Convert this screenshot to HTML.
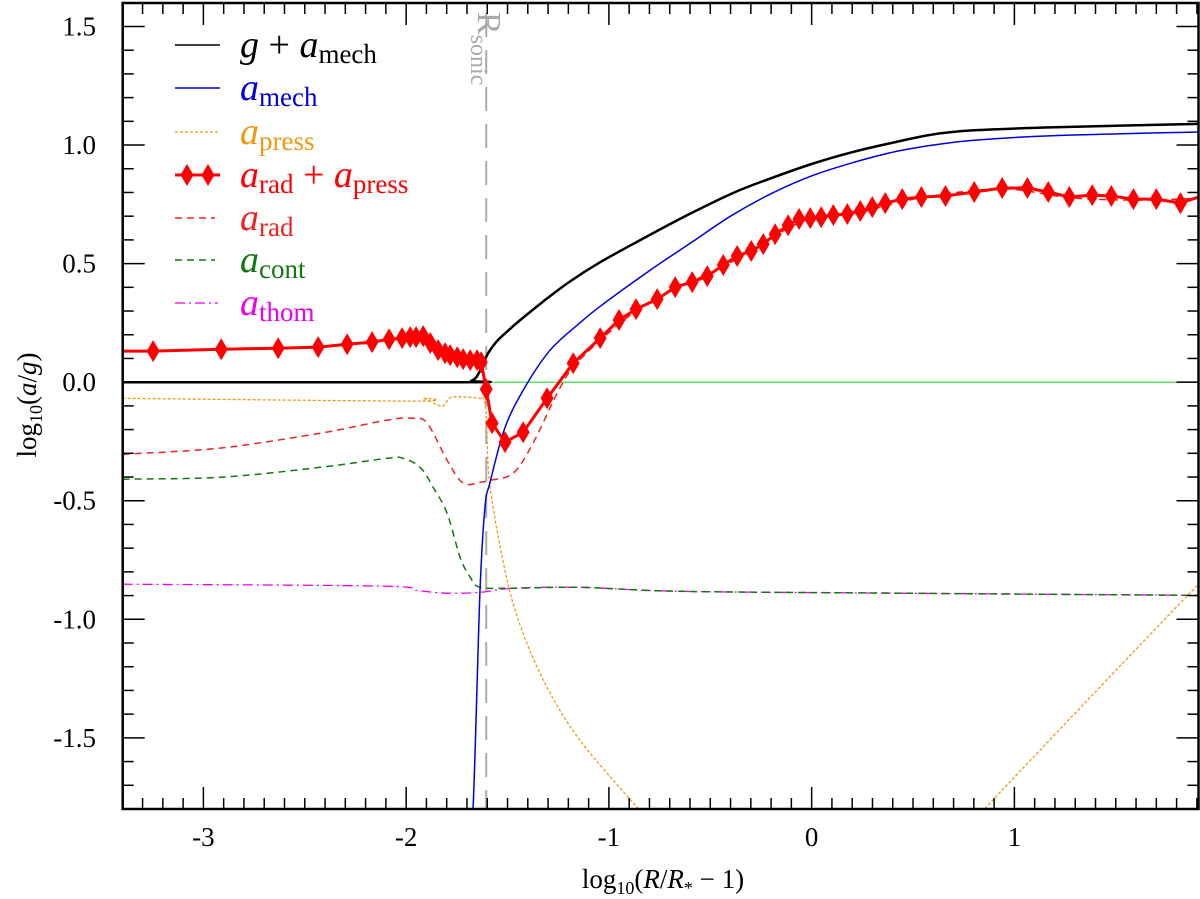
<!DOCTYPE html>
<html><head><meta charset="utf-8"><style>
html,body{margin:0;padding:0;background:#fff;}
svg{display:block;font-family:"Liberation Serif",serif;}
</style></head><body>
<svg id="chart" width="1200" height="899" viewBox="0 0 1200 899" xmlns="http://www.w3.org/2000/svg">
<defs><clipPath id="clip"><rect x="122.7" y="3" width="1075.8" height="806"/></clipPath></defs>
<g id="plot" clip-path="url(#clip)"></g>
<g id="axes"></g>
</svg>
<script>
const NS="http://www.w3.org/2000/svg";
const X0=-3.398,X1=1.908,Y0=-1.80,Y1=1.599;
const L=122.7,R=1198.5,T=3,B=809;
function sx(x){return L+(x-X0)/(X1-X0)*(R-L);}
function sy(y){return B-(y-Y0)/(Y1-Y0)*(B-T);}

const blackX=[-3.398,-1.719,-1.68,-1.655,-1.635,-1.615,-1.59,-1.55,-1.5,-1.437,-1.324,-1.2,-1.043,-0.8,-0.6,-0.382,-0.2,0,0.2,0.4,0.6,0.8,1.2,1.908];
const blackY=[0,0,0.005,0.02,0.05,0.09,0.13,0.175,0.215,0.262,0.34,0.42,0.506,0.62,0.71,0.80,0.86,0.92,0.97,1.01,1.045,1.062,1.075,1.089];
const blueX=[-1.695,-1.670,-1.636,-1.611,-1.586,-1.512,-1.414,-1.290,-1.15,-1.043,-0.8,-0.6,-0.4,-0.2,0,0.2,0.4,0.6,0.8,1.2,1.908];
const blueY=[-1.85,-1.793,-0.89,-0.527,-0.422,-0.19,-0.021,0.135,0.245,0.32,0.47,0.585,0.70,0.795,0.87,0.925,0.97,1.0,1.02,1.04,1.055];
const radPressX=[-3.398,-3.248,-2.912,-2.631,-2.434,-2.291,-2.168,-2.084,-2.020,-1.980,-1.951,-1.916,-1.881,-1.842,-1.808,-1.783,-1.748,-1.719,-1.684,-1.650,-1.630,-1.605,-1.576,-1.512,-1.423,-1.305,-1.176,-1.043,-0.950,-0.866,-0.762,-0.673,-0.589,-0.515,-0.436,-0.367,-0.298,-0.239,-0.180,-0.116,-0.062,-0.007,0.047,0.107,0.176,0.240,0.299,0.363,0.447,0.541,0.660,0.802,0.940,1.064,1.167,1.271,1.384,1.478,1.587,1.700,1.819,1.908];
const radPressY=[0.131,0.131,0.139,0.143,0.148,0.160,0.169,0.181,0.186,0.190,0.190,0.194,0.165,0.135,0.122,0.114,0.105,0.097,0.093,0.093,0.084,-0.030,-0.173,-0.253,-0.211,-0.068,0.080,0.186,0.262,0.308,0.350,0.401,0.422,0.447,0.494,0.532,0.553,0.582,0.624,0.662,0.688,0.692,0.696,0.705,0.709,0.722,0.738,0.755,0.772,0.781,0.785,0.802,0.819,0.819,0.802,0.781,0.789,0.785,0.772,0.772,0.755,0.781];
const radX=[-3.398,-2.917,-2.423,-2.093,-1.970,-1.896,-1.798,-1.719,-1.635,-1.586,-1.472,-1.374,-1.255,-1.176,-1.043,-0.866,-0.673,-0.436,-0.180,-0.007,0.240,0.541,0.940,1.271,1.587,1.908];
const radY=[-0.304,-0.278,-0.215,-0.160,-0.152,-0.173,-0.329,-0.426,-0.422,-0.414,-0.384,-0.257,-0.046,0.063,0.176,0.300,0.393,0.488,0.618,0.688,0.717,0.778,0.815,0.778,0.768,0.775];
const contX=[-3.398,-2.917,-2.423,-2.093,-2.015,-1.931,-1.867,-1.798,-1.734,-1.684,-1.635,-1.472,-1.142,-0.648,0.438,1.908];
const contY=[-0.409,-0.401,-0.359,-0.321,-0.321,-0.359,-0.443,-0.553,-0.738,-0.823,-0.865,-0.869,-0.865,-0.882,-0.890,-0.899];
const thomX=[-3.398,-2.128,-1.95,-1.8,-1.635,-1.472,-1.142,-0.648,0.438,1.908];
const thomY=[-0.852,-0.860,-0.878,-0.890,-0.886,-0.869,-0.865,-0.882,-0.890,-0.899];
const pressX=[-3.398,-1.966,-1.916,-1.823,-1.773,-1.635,-1.620,-1.605,-1.586,-1.502,-1.423,-1.305,-1.142,-0.861,-0.7,0.7,0.856,1.374,1.903,1.95];
const pressY=[-0.068,-0.080,-0.068,-0.101,-0.063,-0.068,-0.068,-0.139,-0.443,-0.835,-1.059,-1.287,-1.511,-1.793,-1.95,-1.95,-1.797,-1.329,-0.857,-0.83];
const zeroX=[-1.605,1.908];
const zeroY=[0,0];
const sonicX=-1.605;
const yTicks=[1.5,1.0,0.5,0.0,-0.5,-1.0,-1.5];
const yTickLabels=["1.5","1.0","0.5","0.0","-0.5","-1.0","-1.5"];
const xTicks=[-3,-2,-1,0,1];
const xTickLabels=["-3","-2","-1","0","1"];

const plot=document.getElementById('plot');
const axes=document.getElementById('axes');
function mk(tag,attrs,parent){const e=document.createElementNS(NS,tag);for(const k in attrs)e.setAttribute(k,attrs[k]);parent.appendChild(e);return e;}
function pathD(xs,ys){return xs.map((x,i)=>(i?'L':'M')+sx(x).toFixed(1)+','+sy(ys[i]).toFixed(1)).join(' ');}
function smoothD(xs,ys){
  const p=xs.map((x,i)=>[sx(x),sy(ys[i])]);
  let d='M'+p[0][0].toFixed(1)+','+p[0][1].toFixed(1);
  for(let i=0;i<p.length-1;i++){
    const p0=p[i-1]||p[i],p1=p[i],p2=p[i+1],p3=p[i+2]||p[i+1];
    const k=1/6;
    const c1=[p1[0]+(p2[0]-p0[0])*k,p1[1]+(p2[1]-p0[1])*k];
    const c2=[p2[0]-(p3[0]-p1[0])*k,p2[1]-(p3[1]-p1[1])*k];
    d+=` C${c1[0].toFixed(1)},${c1[1].toFixed(1)} ${c2[0].toFixed(1)},${c2[1].toFixed(1)} ${p2[0].toFixed(1)},${p2[1].toFixed(1)}`;
  }
  return d;
}
function line(xs,ys,stroke,w,dash,name,smooth){
  const p=mk('path',{d:smooth?smoothD(xs,ys):pathD(xs,ys),fill:'none',stroke:stroke,'stroke-width':w,'stroke-linejoin':'round'},plot);
  if(dash)p.setAttribute('stroke-dasharray',dash);
  
  
  return p;
}
const sl=mk('line',{x1:sx(sonicX),x2:sx(sonicX),y1:T,y2:B,stroke:'#aaaaaa','stroke-width':2,'stroke-dasharray':'24,13','stroke-dashoffset':'-10'},plot);


line(zeroX,zeroY,'#66dd66',1.5,null,'zero-line',false);
line(thomX,thomY,'#ee00ee',1.3,'10,4,2,4','a-thom-line',true);
line(contX,contY,'#117711',1.5,'7,5','a-cont-line',true);
line(pressX,pressY,'#ee9911',1.3,'3,2','a-press-line',true);
line(radX,radY,'#ee2222',1.5,'7,5','a-rad-line',true);
line(blueX,blueY,'#0000dd',1.5,null,'a-mech-line',true);
line(blackX,blackY,'#000',2.5,null,'g-plus-a-mech-line',true);
line(radPressX,radPressY,'#ff0000',3,null,'a-rad-plus-a-press-line',false);
for(let i=1;i<radPressX.length-1;i++){
  const cx=sx(radPressX[i]),cy=sy(radPressY[i]);
  const d=mk('polygon',{points:`${cx},${cy-11} ${cx+6.5},${cy} ${cx},${cy+11} ${cx-6.5},${cy}`,fill:'#ff0000'},plot);
  
  
}
const fr=mk('rect',{x:L,y:T,width:R-L,height:B-T,fill:'none',stroke:'#000','stroke-width':2.5},axes);


for(let k=-34;k<=19;k++){const x=k/10;if(x<X0||x>X1)continue;const major=(k%10===0);const len=major?22:11;const px=sx(x);
  mk('line',{x1:px,x2:px,y1:B,y2:B-len,stroke:'#000','stroke-width':1.5},axes);
  mk('line',{x1:px,x2:px,y1:T,y2:T+len,stroke:'#000','stroke-width':1.5},axes);}
for(let k=-18;k<=16;k++){const y=k/10;if(y<Y0||y>Y1)continue;const major=(k%5===0);const len=major?22:11;const py=sy(y);
  mk('line',{x1:L,x2:L+len,y1:py,y2:py,stroke:'#000','stroke-width':1.5},axes);
  mk('line',{x1:R,x2:R-len,y1:py,y2:py,stroke:'#000','stroke-width':1.5},axes);}
yTicks.forEach((v,i)=>{const t=mk('text',{x:96,y:sy(v)+9,'text-anchor':'end','font-size':27},axes);t.textContent=yTickLabels[i];
  
  });
xTicks.forEach((v,i)=>{const t=mk('text',{x:sx(v),y:846,'text-anchor':'middle','font-size':27},axes);t.textContent=xTickLabels[i];
  
  });
</script>
<svg style="position:absolute;left:0;top:0" width="1200" height="899">
<text x="663" y="888" text-anchor="middle" font-family="Liberation Serif,serif" font-size="27">log<tspan font-size="18" dy="6">10</tspan><tspan dy="-6">(</tspan><tspan font-style="italic">R</tspan>/<tspan font-style="italic">R</tspan><tspan font-size="18" dy="6">*</tspan><tspan dy="-6"> − 1)</tspan></text>
<text transform="translate(36,405) rotate(-90)" text-anchor="middle" font-family="Liberation Serif,serif" font-size="27">log<tspan font-size="18" dy="6">10</tspan><tspan dy="-6">(</tspan><tspan font-style="italic">a</tspan>/<tspan font-style="italic">g</tspan>)</text>
<text transform="translate(478,12) rotate(90)" fill="#aaaaaa" font-family="Liberation Serif,serif" font-size="34">R<tspan font-size="24" dy="7">sonic</tspan></text>
<g font-family="Liberation Serif,serif" font-size="38">
 <g><line x1="175" x2="220" y1="45" y2="45" stroke="#000" stroke-width="1.5"/><text x="240" y="57"><tspan font-style="italic">g</tspan> + <tspan font-style="italic">a</tspan><tspan font-size="27" dy="6">mech</tspan></text></g>
 <g fill="#0000dd"><line x1="175" x2="220" y1="88" y2="88" stroke="#0000dd" stroke-width="1.5"/><text x="240" y="100"><tspan font-style="italic">a</tspan><tspan font-size="27" dy="6">mech</tspan></text></g>
 <g fill="#ee9911"><line x1="175" x2="220" y1="132" y2="132" stroke="#ee9911" stroke-width="1.3" stroke-dasharray="3,2"/><text x="240" y="144"><tspan font-style="italic">a</tspan><tspan font-size="27" dy="6">press</tspan></text></g>
 <g fill="#ff0000"><line x1="175" x2="220" y1="175" y2="175" stroke="#ff0000" stroke-width="3"/><polygon points="187,164 193.5,175 187,186 180.5,175"/><polygon points="208,164 214.5,175 208,186 201.5,175"/><text x="240" y="187"><tspan font-style="italic">a</tspan><tspan font-size="27" dy="6">rad</tspan><tspan dy="-6"> + </tspan><tspan font-style="italic">a</tspan><tspan font-size="27" dy="6">press</tspan></text></g>
 <g fill="#ee2222"><line x1="175" x2="215" y1="218" y2="218" stroke="#ee2222" stroke-width="1.5" stroke-dasharray="7,5"/><text x="240" y="230"><tspan font-style="italic">a</tspan><tspan font-size="27" dy="6">rad</tspan></text></g>
 <g fill="#117711"><line x1="175" x2="215" y1="260" y2="260" stroke="#117711" stroke-width="1.5" stroke-dasharray="7,5"/><text x="240" y="272"><tspan font-style="italic">a</tspan><tspan font-size="27" dy="6">cont</tspan></text></g>
 <g fill="#ee00ee"><line x1="175" x2="218" y1="303" y2="303" stroke="#ee00ee" stroke-width="1.3" stroke-dasharray="10,4,2,4"/><text x="240" y="315"><tspan font-style="italic">a</tspan><tspan font-size="27" dy="6">thom</tspan></text></g>
</g>
</svg>
</body></html>
